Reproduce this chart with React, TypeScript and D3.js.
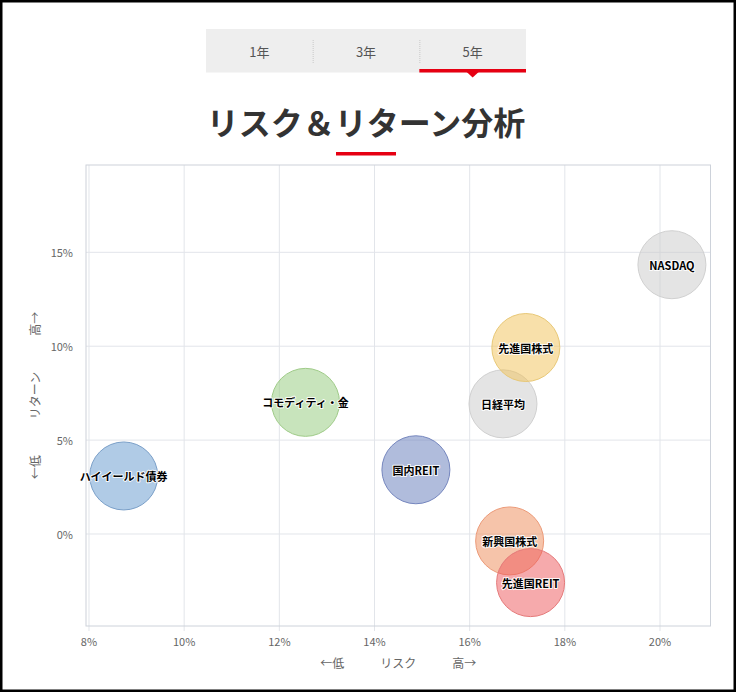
import React from "react";
import * as d3 from "d3";

const names = ["ハイイールド債券", "コモディティ・金", "国内REIT", "新興国株式", "先進国REIT", "日経平均", "先進国株式", "NASDAQ"];
const risk = [8.73, 12.55, 14.87, 16.84, 17.28, 16.70, 17.18, 20.25];
const ret = [3.09, 7.01, 3.42, -0.37, -2.59, 6.93, 9.93, 14.34];
const fills = ["#6197cd", "#91c979", "#6179b9", "#ed8955", "#ed5559", "#c9c9c9", "#f1c155", "#c9c9c9"];
const strokes = ["#7a9fc8", "#9fcb88", "#7586be", "#ec9a78", "#e57a7a", "#d0d0d0", "#e8c877", "#d0d0d0"];

const xTicks = [8, 10, 12, 14, 16, 18, 20];
const yTicks = [0, 5, 10, 15];
const tabLabels = ["1年", "3年", "5年"];
const activeTab = 2;
const title = "リスク＆リターン分析";
const xTitle = "←低　　　リスク　　　高→";
const yTitle = "←低　　　リターン　　　高→";

const W = 736;
const H = 692;
const FONT = "'Noto Sans CJK JP', 'Noto Sans', sans-serif";

export default function App() {
  const plot = { left: 86, right: 710.5, top: 165, bottom: 626 };
  const x = d3.scaleLinear().domain([7.937, 21.061]).range([plot.left, plot.right]);
  const y = d3.scaleLinear().domain([-4.9, 19.65]).range([plot.bottom, plot.top]);
  const r = 34;

  const tab = { x0: 206, x1: 526, y0: 29, y1: 72.5 };
  const tabW = (tab.x1 - tab.x0) / tabLabels.length;
  const tabBand = d3.scaleBand<number>().domain(tabLabels.map((_, i) => i)).range([tab.x0, tab.x1]);

  return (
    <div style={{ position: "absolute", left: 0, top: 0, width: W, height: H, background: "#fff" }}>
      <svg width={W} height={H} style={{ display: "block", fontFamily: FONT }}>
        <rect x={0} y={0} width={W} height={H} fill="#fff" />

        {/* tabs */}
        <rect x={tab.x0} y={tab.y0} width={tab.x1 - tab.x0} height={tab.y1 - tab.y0} fill="#eeeeee" />
        {tabLabels.map((t, i) => (
          <g key={t}>
            {i > 0 && (
              <line
                x1={tabBand(i)! + 0.5}
                x2={tabBand(i)! + 0.5}
                y1={40}
                y2={63}
                stroke="#c8c8c8"
                strokeDasharray="1,1"
              />
            )}
            <text
              x={tabBand(i)! + tabW / 2}
              y={51}
              textAnchor="middle"
              dominantBaseline="central"
              fontSize={13}
              fill="#555"
            >
              {t}
            </text>
          </g>
        ))}
        <rect x={tabBand(activeTab)!} y={69} width={tabW} height={3.5} fill="#e60012" />
        <path
          d={`M${tabBand(activeTab)! + tabW / 2 - 6},72 L${tabBand(activeTab)! + tabW / 2 + 6},72 L${tabBand(activeTab)! + tabW / 2},77.5 Z`}
          fill="#e60012"
        />

        {/* title */}
        <text x={366} y={135} textAnchor="middle" fontSize={32} fontWeight={700} fill="#333">
          {title}
        </text>
        <rect x={336} y={152} width={60} height={3.5} fill="#e60012" />

        {/* grid */}
        {xTicks.map((t) => (
          <line key={"gx" + t} x1={x(t)} x2={x(t)} y1={plot.top} y2={plot.bottom + 5} stroke="#e2e5ea" />
        ))}
        {yTicks.map((t) => (
          <line key={"gy" + t} x1={plot.left} x2={plot.right} y1={y(t)} y2={y(t)} stroke="#e2e5ea" />
        ))}
        <rect
          x={plot.left}
          y={plot.top}
          width={plot.right - plot.left}
          height={plot.bottom - plot.top}
          fill="none"
          stroke="#cdd2da"
        />

        {/* ticks labels */}
        {xTicks.map((t) => (
          <text key={"tx" + t} x={x(t)} y={641} textAnchor="middle" dominantBaseline="central" fontSize={11} fill="#666">
            {t}%
          </text>
        ))}
        {yTicks.map((t) => (
          <text key={"ty" + t} x={73} y={y(t)} textAnchor="end" dominantBaseline="central" fontSize={11} fill="#666">
            {t}%
          </text>
        ))}
        <text x={(plot.left + plot.right) / 2} y={662} textAnchor="middle" dominantBaseline="central" fontSize={12} fill="#666">
          {xTitle}
        </text>
        <text
          transform={`translate(34,${(plot.top + plot.bottom) / 2}) rotate(-90)`}
          textAnchor="middle"
          dominantBaseline="central"
          fontSize={12}
          fill="#666"
        >
          {yTitle}
        </text>

        {/* bubbles */}
        {names.map((n, i) => (
          <circle
            key={"c" + n}
            cx={x(risk[i])}
            cy={y(ret[i])}
            r={r}
            fill={fills[i]}
            fillOpacity={0.5}
            stroke={strokes[i]}
            strokeWidth={1}
          />
        ))}
        {names.map((n, i) => (
          <text
            key={"l" + n}
            x={x(risk[i])}
            y={y(ret[i])}
            textAnchor="middle"
            dominantBaseline="central"
            fontSize={11}
            fontWeight={700}
            fill="#000"
            stroke="#fff"
            strokeWidth={2}
            strokeOpacity={0.9}
            strokeLinejoin="round"
            style={{ paintOrder: "stroke" }}
          >
            {n}
          </text>
        ))}

        {/* outer frame */}
        <rect x={0} y={0} width={W} height={H} fill="none" stroke="#000" strokeWidth={5} />
      </svg>
    </div>
  );
}
